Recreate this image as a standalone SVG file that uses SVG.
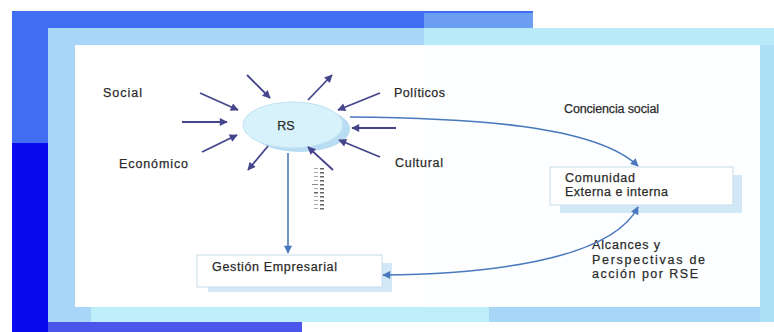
<svg xmlns="http://www.w3.org/2000/svg" width="774" height="332" viewBox="0 0 774 332">
<style>
.t{font-family:"Liberation Sans",Arial,sans-serif;font-size:12.5px;fill:#1e1e1e;stroke:#3a3a3a;stroke-width:0.25px;}
.nv{stroke:#45458c;stroke-width:1.8;fill:none;marker-end:url(#ah);}
.bl{stroke:#4a78bc;stroke-width:1.6;fill:none;}
.box{fill:#ffffff;stroke:#c6dbea;stroke-width:1;}
.shd{fill:#d2e8f6;}
</style>
<defs>
<marker id="ah" viewBox="0 0 10 10" refX="9" refY="5" markerWidth="9" markerHeight="8" markerUnits="userSpaceOnUse" orient="auto">
<path d="M0,0 L10,5 L0,10 z" fill="#45458c"/>
</marker>
<marker id="bh" viewBox="0 0 10 10" refX="9" refY="5" markerWidth="9" markerHeight="8" markerUnits="userSpaceOnUse" orient="auto-start-reverse">
<path d="M0,0 L10,5 L0,10 z" fill="#4a78bc"/>
</marker>
</defs>
<g id="background">
<rect x="0" y="0" width="774" height="332" fill="#ffffff"/>
<rect x="12" y="11" width="521" height="17" fill="#3f6ef2"/>
<rect x="424" y="13" width="109" height="15" fill="#6c9ef2"/>
<rect x="12" y="11" width="36" height="132" fill="#3f6ef2"/>
<rect x="12" y="143" width="36" height="189" fill="#0a0aee"/>
<rect x="48" y="322" width="254" height="10" fill="#4a55ec"/>
<rect x="48" y="28" width="726" height="294" fill="#a8d6f6"/>
<rect x="424" y="28" width="350" height="17" fill="#b8eaf8"/>
<rect x="91" y="307" width="398" height="15" fill="#bdeefa"/>
<rect x="760" y="45" width="14" height="277" fill="#ace0f7"/>
<rect x="75" y="45" width="685" height="262" fill="#ffffff"/>
<rect x="424" y="45" width="336" height="262" fill="#fcfeff"/>
</g>
<g id="labels">
<text class="t" x="103" y="97" textLength="39" lengthAdjust="spacing">Social</text>
<text class="t" x="119" y="168" textLength="69" lengthAdjust="spacing">Económico</text>
<text class="t" x="394" y="97" textLength="51" lengthAdjust="spacing">Políticos</text>
<text class="t" x="395" y="167" textLength="48" lengthAdjust="spacing">Cultural</text>
<text class="t" x="564" y="113" textLength="95" lengthAdjust="spacing">Conciencia social</text>
<text class="t" x="592" y="249" textLength="68" lengthAdjust="spacing">Alcances y</text>
<text class="t" x="592" y="264" textLength="113" lengthAdjust="spacing">Perspectivas de</text>
<text class="t" x="592" y="278" textLength="106" lengthAdjust="spacing">acción por RSE</text>
</g>
<g id="node-rs">
<ellipse cx="300" cy="129" rx="50" ry="23" fill="#b8dcf2"/>
<ellipse cx="293" cy="125" rx="50" ry="23" fill="#d8f2fb" stroke="#bfe2f2" stroke-width="1"/>
<text class="t" x="286" y="130" text-anchor="middle" font-size="14">RS</text>
</g>
<g id="marks">
<rect x="314" y="168" width="4" height="1" fill="#aaa"/><rect x="320" y="168" width="4" height="1.5" fill="#666"/>
<rect x="314" y="172" width="4" height="1" fill="#aaa"/><rect x="320" y="172" width="4" height="1.5" fill="#666"/>
<rect x="314" y="176" width="4" height="1" fill="#aaa"/><rect x="320" y="176" width="4" height="1.5" fill="#666"/>
<rect x="314" y="180" width="4" height="1" fill="#aaa"/><rect x="320" y="180" width="4" height="1.5" fill="#666"/>
<rect x="312" y="184" width="6" height="1" fill="#888"/><rect x="320" y="184" width="4" height="1.5" fill="#666"/>
<rect x="314" y="188" width="4" height="1" fill="#aaa"/><rect x="320" y="188" width="4" height="1.5" fill="#666"/>
<rect x="314" y="192" width="4" height="1.5" fill="#666"/><rect x="320" y="192" width="4" height="1.5" fill="#666"/>
<rect x="314" y="196" width="4" height="1" fill="#aaa"/><rect x="320" y="196" width="4" height="1.5" fill="#666"/>
<rect x="314" y="200" width="4" height="1" fill="#aaa"/><rect x="320" y="200" width="4" height="1.5" fill="#666"/>
<rect x="314" y="204" width="4" height="1" fill="#aaa"/><rect x="320" y="204" width="4" height="1.5" fill="#666"/>
<rect x="314" y="208" width="4" height="1" fill="#aaa"/><rect x="320" y="208" width="4" height="1.5" fill="#666"/>
</g>
<g id="node-comunidad">
<rect class="shd" x="560" y="175" width="182" height="38"/>
<rect class="box" x="550" y="167" width="183" height="38"/>
<text class="t" x="565" y="182" textLength="70" lengthAdjust="spacing">Comunidad</text>
<text class="t" x="565" y="196" textLength="103" lengthAdjust="spacing">Externa e interna</text>
</g>
<g id="node-gestion">
<rect class="shd" x="208" y="263" width="184" height="29"/>
<rect class="box" x="197" y="255" width="185" height="32"/>
<text class="t" x="212" y="271" textLength="125" lengthAdjust="spacing">Gestión Empresarial</text>
</g>
<g id="connectors">
<line class="nv" x1="247" y1="75" x2="270" y2="98"/>
<line class="nv" x1="200" y1="93" x2="238" y2="110"/>
<line class="nv" x1="182" y1="122" x2="227" y2="122"/>
<line class="nv" x1="202" y1="152" x2="237" y2="135"/>
<line class="nv" x1="268" y1="146" x2="248" y2="170"/>
<line class="nv" x1="308" y1="100" x2="332" y2="75"/>
<line class="nv" x1="380" y1="93" x2="338" y2="110"/>
<line class="nv" x1="396" y1="128" x2="352" y2="128"/>
<line class="nv" x1="380" y1="157" x2="339" y2="140"/>
<line class="nv" x1="333" y1="170" x2="308" y2="147"/>
<line class="bl" x1="288" y1="153" x2="288" y2="253" stroke-width="2" marker-end="url(#bh)"/>
<path class="bl" d="M350,117 C470,118 595,125 638,166" marker-end="url(#bh)"/>
<path class="bl" d="M383,275 C480,274 610,262 638,207" marker-start="url(#bh)" marker-end="url(#bh)"/>
</g>
</svg>
